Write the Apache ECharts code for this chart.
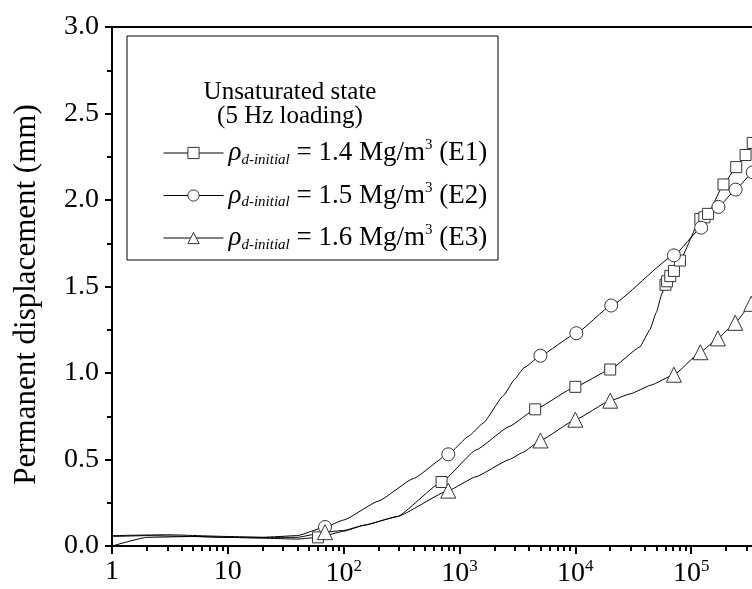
<!DOCTYPE html>
<html>
<head>
<meta charset="utf-8">
<script src="https://cdn.jsdelivr.net/npm/echarts@6/dist/echarts.min.js"></script>
<style>
  html, body { margin: 0; padding: 0; background: #fff; overflow: hidden; }
  /* the plot runs past the right edge of the window, like the original figure */
  #chart { width: 860px; height: 589px; }
</style>
</head>
<body>
<div id="chart"></div>
<script>
// number of cycles (N) vs permanent displacement (mm)
const seriesNames = ['E1', 'E2', 'E3'];
const densities = ['1.4', '1.5', '1.6'];

// curve points between the markers
const e1Line = [[1, 0.055], [2, 0.06], [5, 0.055], [10, 0.05], [20, 0.045], [40, 0.04], [100, 0.085], [150, 0.12], [290, 0.17],
  [1390, 0.555], [2680, 0.69], [36000, 1.15], [44000, 1.25], [50000, 1.35], [56000, 1.46], [400000, 2.45]];
const e1Marks = [[60, 0.05], [700, 0.37], [4500, 0.79], [10000, 0.92], [20000, 1.02], [60000, 1.51], [62000, 1.53],
  [66000, 1.56], [71000, 1.59], [80000, 1.65], [120000, 1.89], [130000, 1.9], [140000, 1.92], [190000, 2.09],
  [245000, 2.19], [295000, 2.26], [340000, 2.33]];

const e2Line = [[1, 0.06], [3, 0.065], [10, 0.055], [20, 0.05], [40, 0.06], [100, 0.15], [200, 0.26], [400, 0.39],
  [1200, 0.635], [1600, 0.71], [2400, 0.87], [3000, 0.965], [3600, 1.03], [400000, 2.22]];
const e2Marks = [[69, 0.11], [800, 0.53], [5000, 1.1], [10200, 1.23], [20400, 1.39], [71000, 1.68], [122000, 1.84],
  [172000, 1.96], [242000, 2.06], [340000, 2.16]];

const e3Line = [[1, 0.0], [2, 0.05], [5, 0.055], [10, 0.05], [20, 0.05], [40, 0.05], [100, 0.09], [150, 0.12], [290, 0.17],
  [1380, 0.4], [2700, 0.5], [3500, 0.54], [30000, 0.88], [45000, 0.93], [400000, 1.47]];
const e3Marks = [[69, 0.08], [800, 0.32], [5000, 0.61], [10000, 0.73], [20000, 0.84], [71000, 0.99], [120000, 1.12],
  [170000, 1.2], [240000, 1.29], [330000, 1.4]];

const font = "'Liberation Serif', 'Times New Roman', serif";

function merge(line, marks) {
  const pts = line.map(p => ({ value: p, symbol: 'none' }))
    .concat(marks.map(p => ({ value: p })));
  pts.sort((a, b) => a.value[0] - b.value[0]);
  return pts;
}

const lines = [e1Line, e2Line, e3Line];
const marks = [e1Marks, e2Marks, e3Marks];
const symbols = ['rect', 'circle', 'triangle'];
const symbolSizes = [11, 13, 15];

const chart = echarts.init(document.getElementById('chart'), null, { renderer: 'canvas' });

chart.setOption({
  animation: false,
  backgroundColor: '#fff',
  textStyle: { fontFamily: font, color: '#000' },
  grid: { left: 112, top: 27, right: 53, bottom: 43, containLabel: false },
  xAxis: [
    {
      type: 'log',
      logBase: 10,
      min: 1,
      max: 1000000,
      position: 'bottom',
      axisLine: { show: true, lineStyle: { color: '#000', width: 2 } },
      axisTick: { show: true, inside: false, length: 8, lineStyle: { color: '#000', width: 2 } },
      // 9 splits between decades gives ticks at 2..9 on a log axis
      minorTick: { show: true, splitNumber: 9, length: 5, lineStyle: { color: '#000', width: 2 } },
      splitLine: { show: false },
      axisLabel: {
        margin: 12,
        fontSize: 28,
        fontFamily: font,
        color: '#000',
        formatter: v => {
          const e = Math.round(Math.log10(v));
          if (e === 0) return '1';
          if (e === 1) return '10';
          return '10{sup|' + e + '}';
        },
        rich: { sup: { fontSize: 17, fontFamily: font, color: '#000', padding: [0, 0, 14, 0] } }
      }
    },
    {
      type: 'log',
      logBase: 10,
      min: 1,
      max: 1000000,
      position: 'top',
      axisLine: { show: true, lineStyle: { color: '#000', width: 2 } },
      axisTick: { show: false },
      axisLabel: { show: false },
      splitLine: { show: false }
    }
  ],
  yAxis: {
    type: 'value',
    min: 0,
    max: 3,
    interval: 0.5,
    name: 'Permanent displacement (mm)',
    nameLocation: 'middle',
    nameGap: 70,
    nameTextStyle: { fontSize: 31, fontFamily: font, color: '#000', padding: [0, 16, 0, 0] },
    axisLine: { show: true, lineStyle: { color: '#000', width: 2 } },
    axisTick: { show: true, inside: false, length: 7, lineStyle: { color: '#000', width: 2 } },
    minorTick: { show: true, splitNumber: 2, length: 5, lineStyle: { color: '#000', width: 2 } },
    splitLine: { show: false },
    axisLabel: {
      margin: 13,
      fontSize: 28,
      fontFamily: font,
      color: '#000',
      formatter: v => v.toFixed(1)
    }
  },
  legend: {
    show: true,
    orient: 'vertical',
    left: 158,
    top: 133,
    itemWidth: 60,
    itemHeight: 14,
    itemGap: 13,
    selectedMode: false,
    data: seriesNames,
    textStyle: {
      fontFamily: font,
      fontSize: 27,
      color: '#000',
      rich: {
        r: { fontFamily: font, fontSize: 27, fontStyle: 'italic', color: '#000' },
        s: { fontFamily: font, fontSize: 15, fontStyle: 'italic', color: '#000', padding: [14, 0, 0, 0] },
        t: { fontFamily: font, fontSize: 15, color: '#000', padding: [0, 0, 15, 0] }
      }
    },
    formatter: name => {
      const i = seriesNames.indexOf(name);
      return '{r|ρ}{s|d-initial} = ' + densities[i] + ' Mg/m{t|3} (' + name + ')';
    },
    itemStyle: { color: '#fff', borderColor: '#333', borderWidth: 1 },
    lineStyle: { color: '#000', width: 1 },
    z: 10
  },
  graphic: [
    {
      type: 'rect',
      shape: { x: 127, y: 36, width: 371, height: 224 },
      style: { fill: '#fff', stroke: '#000', lineWidth: 1 },
      z: 5
    },
    {
      type: 'text',
      x: 290,
      y: 92,
      style: { text: 'Unsaturated state', fontFamily: font, fontSize: 25, fill: '#000', align: 'center', verticalAlign: 'middle' },
      z: 6
    },
    {
      type: 'text',
      x: 290,
      y: 116,
      style: { text: '(5 Hz loading)', fontFamily: font, fontSize: 25, fill: '#000', align: 'center', verticalAlign: 'middle' },
      z: 6
    }
  ],
  series: seriesNames.map((name, i) => ({
    name: name,
    type: 'line',
    data: merge(lines[i], marks[i]),
    symbol: symbols[i],
    symbolSize: symbolSizes[i],
    showSymbol: true,
    showAllSymbol: true,
    smooth: 0.12,
    smoothMonotone: 'x',
    lineStyle: { color: '#000', width: 1 },
    itemStyle: { color: '#fff', borderColor: '#333', borderWidth: 1 },
    emphasis: { disabled: true },
    z: 2
  }))
});
</script>
</body>
</html>
